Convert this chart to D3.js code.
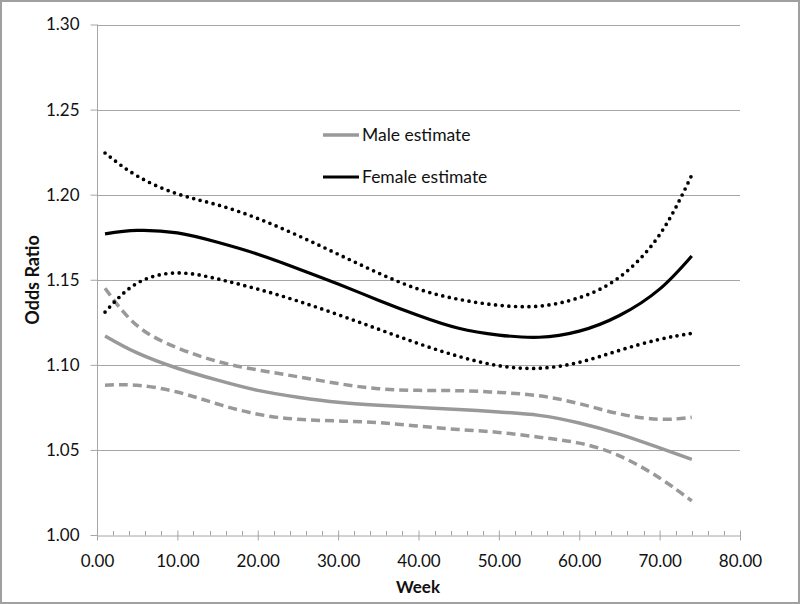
<!DOCTYPE html>
<html><head><meta charset="utf-8">
<script src="https://cdn.jsdelivr.net/npm/d3@7"></script>
<style>html,body{margin:0;padding:0;background:#fff;}svg{display:block;}</style>
</head><body>
<svg id="c" width="800" height="604"></svg>
<script>
const weeks = [1, 5, 10, 15, 20, 25, 30, 35, 40, 45, 50, 55, 60, 65, 70, 74];
const femaleEstimate = [1.177, 1.179, 1.1775, 1.172, 1.165, 1.1565, 1.1475, 1.138, 1.129, 1.1215, 1.1175, 1.1162, 1.1198, 1.129, 1.1445, 1.164];
const femaleUpper    = [1.2245, 1.211, 1.2005, 1.194, 1.186, 1.176, 1.165, 1.154, 1.1445, 1.1385, 1.135, 1.1345, 1.1395, 1.1515, 1.1765, 1.2115];
const femaleLower    = [1.131, 1.148, 1.154, 1.1505, 1.1445, 1.1375, 1.1295, 1.121, 1.1125, 1.105, 1.0995, 1.098, 1.1015, 1.1085, 1.1150, 1.1185];
const maleEstimate   = [1.117, 1.107, 1.098, 1.091, 1.085, 1.081, 1.078, 1.0763, 1.075, 1.0738, 1.0723, 1.0703, 1.0658, 1.0593, 1.0512, 1.0445];
const maleUpper      = [1.145, 1.123, 1.110, 1.102, 1.097, 1.093, 1.089, 1.086, 1.085, 1.0848, 1.0838, 1.0818, 1.0772, 1.0712, 1.0680, 1.0692];
const maleLower      = [1.088, 1.088, 1.084, 1.077, 1.071, 1.068, 1.067, 1.066, 1.064, 1.062, 1.0603, 1.0575, 1.0540, 1.0465, 1.0335, 1.020];
const xTicks = [0, 10, 20, 30, 40, 50, 60, 70, 80];
const yTicks = [1.00, 1.05, 1.10, 1.15, 1.20, 1.25, 1.30];
const legendLabels = ["Male estimate", "Female estimate"];

(function () {
const svg = d3.select("#c");
const W = 800, H = 604;
const pLeft = 97, pRight = 740, pTop = 24.5, pBottom = 535;
const x = d3.scaleLinear().domain([0, 80]).range([pLeft, pRight]);
const y = d3.scaleLinear().domain([1.00, 1.30]).range([pBottom, pTop]);
const font = "Lato, 'Open Sans', sans-serif";
const gridCol = "#a6a6a6";
const textCol = "#111";

svg.append("rect").attr("x", 1).attr("y", 1).attr("width", W - 2).attr("height", H - 2)
  .attr("fill", "#fff").attr("stroke", "#a0a0a0").attr("stroke-width", 2);

// gridlines
svg.append("g").selectAll("line").data(yTicks.slice(1)).join("line")
  .attr("x1", pLeft).attr("x2", pRight)
  .attr("y1", d => Math.round(y(d)) + 0.5).attr("y2", d => Math.round(y(d)) + 0.5)
  .attr("stroke", gridCol).attr("stroke-width", 1);

// y axis
const yAxis = d3.axisLeft(y).tickValues(yTicks).tickFormat(d3.format(".2f")).tickSize(7).tickPadding(11);
const gy = svg.append("g").attr("transform", `translate(${pLeft + 0.5},0)`).call(yAxis);
gy.select(".domain").attr("stroke", gridCol).attr("d", `M0,${y(1.30)}V${pBottom}`);
gy.selectAll(".tick line").attr("stroke", gridCol);
gy.selectAll(".tick text").attr("font-family", font).attr("font-size", 17).attr("fill", textCol);

// x axis minor ticks
const minor = d3.range(0, 81, 2).filter(d => d % 10 !== 0);
svg.append("g").selectAll("line").data(minor).join("line")
  .attr("x1", d => Math.round(x(d)) + 0.5).attr("x2", d => Math.round(x(d)) + 0.5)
  .attr("y1", pBottom - 4).attr("y2", pBottom + 0.5)
  .attr("stroke", gridCol);
const xAxis = d3.axisBottom(x).tickValues(xTicks).tickFormat(d3.format(".2f")).tickSizeInner(5).tickSizeOuter(0).tickPadding(14);
const gx = svg.append("g").attr("transform", `translate(0,${Math.round(pBottom) + 0.5})`).call(xAxis);
gx.select(".domain").attr("stroke", gridCol);
gx.selectAll(".tick line").attr("stroke", gridCol).attr("y1", -5);
gx.selectAll(".tick text").attr("font-family", font).attr("font-size", 17).attr("fill", textCol);

// axis titles
svg.append("text").attr("x", 418).attr("y", 593).attr("text-anchor", "middle")
  .attr("font-family", font).attr("font-weight", "bold").attr("font-size", 17).attr("fill", textCol).text("Week");
svg.append("text").attr("transform", "translate(39,280) rotate(-90)").attr("text-anchor", "middle")
  .attr("font-family", font).attr("font-weight", "bold").attr("font-size", 18).attr("fill", textCol).text("Odds Ratio");

const line = vals => d3.line().x((d, i) => x(weeks[i])).y(d => y(d)).curve(d3.curveNatural)(vals);
const gray = "#999999";

const series = [
  {v: maleUpper, c: gray, w: 3.5, dash: "9 5", cap: "butt"},
  {v: maleLower, c: gray, w: 3.5, dash: "9 5", cap: "butt"},
  {v: maleEstimate, c: gray, w: 3.5, dash: null, cap: "butt"},
  {v: femaleUpper, c: "#000", w: 3.7, dash: "0 6.7", cap: "round"},
  {v: femaleLower, c: "#000", w: 3.7, dash: "0 6.7", cap: "round"},
  {v: femaleEstimate, c: "#000", w: 3.2, dash: null, cap: "butt"}
];
svg.append("g").selectAll("path").data(series).join("path")
  .attr("d", d => line(d.v)).attr("fill", "none")
  .attr("stroke", d => d.c).attr("stroke-width", d => d.w)
  .attr("stroke-dasharray", d => d.dash).attr("stroke-linecap", d => d.cap);

// legend
const leg = svg.append("g");
const legRows = [{label: legendLabels[0], c: gray, w: 3.5, y: 135}, {label: legendLabels[1], c: "#000", w: 3.2, y: 177}];
leg.selectAll("line").data(legRows).join("line")
  .attr("x1", 323).attr("x2", 359).attr("y1", d => d.y).attr("y2", d => d.y)
  .attr("stroke", d => d.c).attr("stroke-width", d => d.w);
leg.selectAll("text").data(legRows).join("text")
  .attr("x", 362).attr("y", d => d.y + 6).attr("font-family", font).attr("font-size", 17.5)
  .attr("fill", textCol).text(d => d.label);
})();
</script>
</body></html>
